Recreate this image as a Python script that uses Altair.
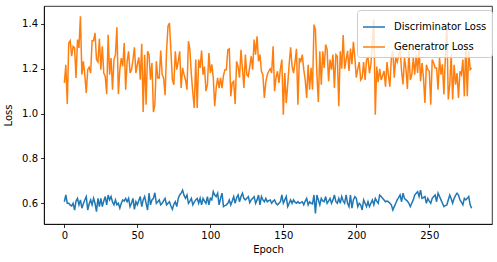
import altair as alt
import pandas as pd

series_names = ["Discriminator Loss", "Generatror Loss"]
series_colors = ["#1f77b4", "#ff7f0e"]
x_ticks = [0, 50, 100, 150, 200, 250]
y_ticks = [0.6, 0.8, 1.0, 1.2, 1.4]

disc_loss = [
    0.607, 0.637, 0.600, 0.600, 0.592, 0.588, 0.600, 0.570, 0.610, 0.622,
    0.593, 0.615, 0.578, 0.598, 0.615, 0.630, 0.570, 0.598, 0.615, 0.593,
    0.622, 0.600, 0.563, 0.622, 0.585, 0.622, 0.585, 0.610, 0.630, 0.593,
    0.637, 0.615, 0.630, 0.605, 0.593, 0.615, 0.593, 0.600, 0.578, 0.600,
    0.615, 0.610, 0.622, 0.607, 0.622, 0.585, 0.600, 0.622, 0.573, 0.607,
    0.593, 0.612, 0.630, 0.585, 0.615, 0.630, 0.600, 0.570, 0.645, 0.593,
    0.615, 0.622, 0.647, 0.600, 0.607, 0.615, 0.593, 0.600, 0.612, 0.622,
    0.593, 0.600, 0.607, 0.588, 0.573, 0.595, 0.607, 0.585, 0.622, 0.637,
    0.645, 0.659, 0.635, 0.622, 0.637, 0.600, 0.610, 0.622, 0.593, 0.605,
    0.615, 0.622,
    0.600, 0.622, 0.593, 0.622, 0.610, 0.600, 0.630, 0.593, 0.622, 0.615,
    0.652, 0.637, 0.630, 0.645, 0.593, 0.622, 0.645, 0.585, 0.590, 0.593,
    0.600, 0.615, 0.593, 0.610, 0.630, 0.600, 0.625, 0.637, 0.607, 0.630,
    0.645, 0.622, 0.615, 0.622, 0.630, 0.603, 0.615, 0.622, 0.630, 0.600,
    0.615, 0.637, 0.593, 0.630, 0.615, 0.607, 0.622, 0.607, 0.612, 0.615,
    0.600, 0.610, 0.615, 0.600, 0.593, 0.600, 0.607, 0.637, 0.600, 0.615,
    0.630, 0.585, 0.600, 0.615, 0.600, 0.615, 0.605, 0.600, 0.607, 0.600,
    0.603, 0.607, 0.593, 0.610, 0.622, 0.593, 0.607, 0.600, 0.597, 0.637,
    0.555, 0.637, 0.615, 0.593, 0.622, 0.610, 0.607, 0.630, 0.600, 0.610,
    0.622, 0.600, 0.615, 0.637, 0.607,
    0.600, 0.622, 0.600, 0.630, 0.610, 0.600, 0.637, 0.600, 0.585, 0.637,
    0.578, 0.615, 0.630, 0.622, 0.585, 0.600, 0.593, 0.570, 0.615, 0.600,
    0.585, 0.607, 0.585, 0.600, 0.615, 0.593, 0.622, 0.610, 0.600, 0.637,
    0.630, 0.622, 0.615, 0.607, 0.610, 0.607, 0.600, 0.593, 0.570, 0.585,
    0.600, 0.615, 0.625, 0.637, 0.607, 0.645, 0.622, 0.615, 0.610, 0.600,
    0.585, 0.600, 0.615, 0.637, 0.645, 0.652, 0.630, 0.659, 0.622, 0.625,
    0.630, 0.600, 0.622, 0.610, 0.600, 0.622, 0.630, 0.637, 0.607, 0.645,
    0.630, 0.615, 0.600, 0.585, 0.590, 0.593, 0.615, 0.637, 0.620, 0.600,
    0.622, 0.635, 0.645, 0.637, 0.615, 0.605, 0.593, 0.622, 0.615, 0.622,
    0.630, 0.593, 0.578,
]

gen_loss = [
    1.137, 1.218, 1.043, 1.315, 1.325, 1.256, 1.300, 1.293, 1.159, 1.330,
    1.293, 1.434, 1.174, 1.233, 1.174, 1.092, 1.196, 1.207, 1.181, 1.325,
    1.325, 1.360, 1.241, 1.230, 1.334, 1.196, 1.300, 1.181, 1.166, 1.087,
    1.352, 1.174, 1.248, 1.107, 1.241, 1.263, 1.385, 1.087, 1.196, 1.248,
    1.211, 1.315, 1.107, 1.233, 1.278, 1.181,
    1.196, 1.240, 1.296, 1.181, 1.220, 1.251, 1.151, 1.311, 1.007, 1.263,
    1.040, 1.278, 1.263, 1.151, 1.226, 1.007, 1.040, 1.233, 1.159, 1.159,
    1.281, 1.174, 1.159, 1.082, 1.278, 1.390, 1.404, 1.278, 1.151, 1.129,
    1.278, 1.196, 1.233, 1.278, 1.114, 1.204, 1.174, 1.150, 1.107, 1.323,
    1.285, 1.174, 1.092, 1.025, 1.241, 1.025, 1.241, 1.204,
    1.281, 1.174, 1.210, 1.100, 1.129, 1.270, 1.181, 1.220, 1.159, 1.033,
    1.114, 1.159, 1.114, 1.159, 1.114, 1.170, 1.196, 1.196, 1.285, 1.289,
    1.077, 1.137, 1.144, 1.043, 1.233, 1.211, 1.160, 1.285, 1.200, 1.114,
    1.263, 1.174, 1.166, 1.210, 1.256, 1.196, 1.330, 1.263, 1.345, 1.233,
    1.263, 1.189, 1.174, 1.070, 1.140, 1.174, 1.189,
    1.200, 1.181, 1.300, 1.100, 1.160, 1.189, 1.137, 1.200, 1.241, 0.995,
    1.181, 1.047, 1.129, 1.220, 1.296, 1.211, 1.181, 1.230, 1.289, 1.040,
    1.248, 1.233, 1.263, 1.196, 1.150, 1.070, 1.218, 1.107, 1.204, 1.107,
    1.397, 1.375, 1.174, 1.052, 1.278, 1.129, 1.278, 1.204, 1.308, 1.285,
    1.144, 1.241, 1.196, 1.263, 1.114, 1.263, 1.256, 1.033, 1.278,
    1.200, 1.350, 1.200, 1.240, 1.280, 1.190, 1.290, 1.220, 1.320, 1.250,
    1.160, 1.200, 1.230, 1.150, 1.160, 1.230, 1.150, 1.240, 1.250, 1.180,
    1.220, 1.320, 1.420, 0.995, 1.210, 1.140, 1.200, 1.150, 1.170, 1.190,
    1.120, 1.230, 1.170, 1.120, 1.250, 1.280, 1.160, 1.250, 1.230, 1.260,
    1.290, 1.190, 1.130, 1.250, 1.200, 1.110, 1.280, 1.150,
    1.174, 1.248, 1.174, 1.263, 1.181, 1.293, 1.144, 1.226, 1.160, 1.047,
    1.218, 1.196, 1.189, 1.040, 1.241, 1.226, 1.204, 1.204, 1.107, 1.248,
    1.174, 1.220, 1.085, 1.250, 1.400, 1.063, 1.129, 1.263, 1.063, 1.218,
    1.129, 1.181, 1.070, 1.189, 1.174, 1.241, 1.077, 1.308, 1.077, 1.278,
    1.196, 1.204,
]

rows = []
for name, values in zip(series_names, [disc_loss, gen_loss]):
    for i, v in enumerate(values):
        rows.append({"epoch": i, "loss": v, "series": name})
df = pd.DataFrame(rows)

chart = alt.Chart(df).mark_line(strokeWidth=1.5, clip=True).encode(
    x=alt.X("epoch:Q",
            scale=alt.Scale(domain=[-13.95, 292.95], nice=False, zero=False),
            axis=alt.Axis(values=x_ticks, format="d", title="Epoch", titlePadding=4)),
    y=alt.Y("loss:Q",
            scale=alt.Scale(domain=[0.5076, 1.48], nice=False, zero=False),
            axis=alt.Axis(values=y_ticks, format=".1f", title="Loss", titlePadding=8)),
    color=alt.Color("series:N",
                    scale=alt.Scale(domain=series_names, range=series_colors),
                    legend=alt.Legend(title=None, orient="none", legendX=313, legendY=4,
                                      symbolType="stroke", symbolSize=484,
                                      symbolStrokeWidth=1.5, labelFontSize=10,
                                      labelColor="#000000", labelFont="DejaVu Sans",
                                      fillColor="rgba(255,255,255,0.8)",
                                      strokeColor="#cccccc", cornerRadius=3,
                                      padding=5, rowPadding=3, labelOffset=8)),
    order=alt.Order("epoch:Q"),
).properties(
    width=448, height=218,
    autosize=alt.AutoSizeParams(type="none"),
    padding={"left": 44, "top": 6, "right": 5, "bottom": 38},
    background="white",
).configure_view(
    stroke="#000000", strokeWidth=0.8
).configure_axis(
    grid=False, domainColor="#000000", domainWidth=0.8, tickColor="#000000",
    tickWidth=0.8, tickSize=3.5, labelFont="DejaVu Sans", labelFontSize=10,
    labelColor="#000000", labelPadding=3, titleFont="DejaVu Sans", titleFontSize=10,
    titleFontWeight="normal", titleColor="#000000",
)

chart.save("out.html", embed_options={"renderer": "svg", "actions": False})
